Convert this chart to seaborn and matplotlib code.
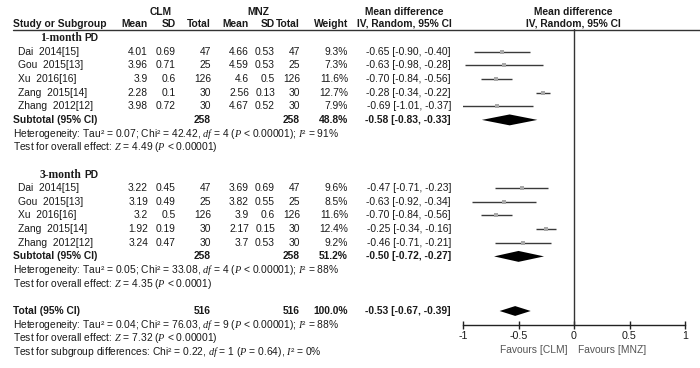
import matplotlib
matplotlib.use('Agg')
import matplotlib.pyplot as plt
import seaborn as sns
import pandas as pd

# ---- data ----
studies = ['Dai  2014[15]', 'Gou  2015[13]', 'Xu  2016[16]', 'Zang  2015[14]', 'Zhang  2012[12]']

clm_mean_1 = [4.01, 3.96, 3.9, 2.28, 3.98]
clm_sd_1 = [0.69, 0.71, 0.6, 0.1, 0.72]
mnz_mean_1 = [4.66, 4.59, 4.6, 2.56, 4.67]
mnz_sd_1 = [0.53, 0.53, 0.5, 0.13, 0.52]
weight_1 = [9.3, 7.3, 11.6, 12.7, 7.9]
md_1 = [-0.65, -0.63, -0.70, -0.28, -0.69]
lo_1 = [-0.90, -0.98, -0.84, -0.34, -1.01]
hi_1 = [-0.40, -0.28, -0.56, -0.22, -0.37]

clm_mean_3 = [3.22, 3.19, 3.2, 1.92, 3.24]
clm_sd_3 = [0.45, 0.49, 0.5, 0.19, 0.47]
mnz_mean_3 = [3.69, 3.82, 3.9, 2.17, 3.7]
mnz_sd_3 = [0.69, 0.55, 0.6, 0.15, 0.53]
weight_3 = [9.6, 8.5, 11.6, 12.4, 9.2]
md_3 = [-0.47, -0.63, -0.70, -0.25, -0.46]
lo_3 = [-0.71, -0.92, -0.84, -0.34, -0.71]
hi_3 = [-0.23, -0.34, -0.56, -0.16, -0.21]

n_total = [47, 25, 126, 30, 30]

pooled_labels = ['Subtotal (95% CI)', 'Subtotal (95% CI)', 'Total (95% CI)']
pooled_n = [258, 258, 516]
pooled_weight = [48.8, 51.2, 100.0]
pooled_md = [-0.58, -0.50, -0.53]
pooled_lo = [-0.83, -0.72, -0.67]
pooled_hi = [-0.33, -0.27, -0.39]

het_text = [
    'Heterogeneity: Tau² = 0.07; Chi² = 42.42, $df$ = 4 ($P$ < 0.00001); $I$² = 91%',
    'Heterogeneity: Tau² = 0.05; Chi² = 33.08, $df$ = 4 ($P$ < 0.00001); $I$² = 88%',
    'Heterogeneity: Tau² = 0.04; Chi² = 76.03, $df$ = 9 ($P$ < 0.00001); $I$² = 88%',
]
effect_text = [
    'Test for overall effect: $Z$ = 4.49 ($P$ < 0.00001)',
    'Test for overall effect: $Z$ = 4.35 ($P$ < 0.0001)',
    'Test for overall effect: $Z$ = 7.32 ($P$ < 0.00001)',
]
subgroup_text = 'Test for subgroup differences: Chi² = 0.22, $df$ = 1 ($P$ = 0.64), $I$² = 0%'
x_ticks = [-1, -0.5, 0, 0.5, 1]
x_tick_labels = ['-1', '-0.5', '0', '0.5', '1']

# ---- layout ----
sns.set_theme(style='white')
plt.rcParams['font.family'] = ['Liberation Sans', 'DejaVu Sans']
plt.rcParams['mathtext.fontset'] = 'custom'
plt.rcParams['mathtext.it'] = 'Liberation Serif:italic'
plt.rcParams['mathtext.rm'] = 'Liberation Sans'

FS = 7.4
TXT = '#1a1a1a'
Y0, DY = 38, 13.65


def ypix(r):
    return Y0 + DY * r


fig = plt.figure(figsize=(7, 3.68), dpi=100)
fig.patch.set_facecolor('white')

# text layer in pixel coordinates
at = fig.add_axes([0, 0, 1, 1])
at.set_xlim(0, 700)
at.set_ylim(368, 0)
at.axis('off')

# forest axes, rows on y
ax = fig.add_axes([463 / 700, 1 - 325 / 368, 222 / 700, (325 - 29) / 368])
ax.set_xlim(-1, 1)
ax.set_ylim((325 - Y0) / DY, (29 - Y0) / DY)
ax.patch.set_alpha(0)

# headers
at.text(161, 12, 'CLM', ha='center', va='center', fontsize=FS, fontweight='bold', color=TXT)
at.text(258, 12, 'MNZ', ha='center', va='center', fontsize=FS, fontweight='bold', color=TXT)
at.text(404, 12, 'Mean difference', ha='center', va='center', fontsize=FS, fontweight='bold', color=TXT)
at.text(573, 12, 'Mean difference', ha='center', va='center', fontsize=FS, fontweight='bold', color=TXT)
hy = 24
at.text(13, hy, 'Study or Subgroup', ha='left', va='center', fontsize=FS, fontweight='bold', color=TXT)
col_x = [148, 176, 211, 249, 275, 300, 348]
for x, lab in zip(col_x, ['Mean', 'SD', 'Total', 'Mean', 'SD', 'Total', 'Weight']):
    at.text(x, hy, lab, ha='right', va='center', fontsize=FS, fontweight='bold', color=TXT)
at.text(404, hy, 'IV, Random, 95% CI', ha='center', va='center', fontsize=FS, fontweight='bold', color=TXT)
at.text(573, hy, 'IV, Random, 95% CI', ha='center', va='center', fontsize=FS, fontweight='bold', color=TXT)
at.plot([13, 700], [29.5, 29.5], color='#333333', lw=1)

groups = [
    ('1-month', 0, clm_mean_1, clm_sd_1, mnz_mean_1, mnz_sd_1, weight_1, md_1, lo_1, hi_1),
    ('3-month', 10, clm_mean_3, clm_sd_3, mnz_mean_3, mnz_sd_3, weight_3, md_3, lo_3, hi_3),
]

rows = []
for gi, (gname, r0, cm, cs, mm, ms, w, md, lo, hi) in enumerate(groups):
    at.text(40, ypix(r0), gname, ha='left', va='center', fontsize=FS + 0.9,
            fontweight='bold', family='Liberation Serif', color=TXT)
    at.text(84, ypix(r0), 'PD', ha='left', va='center', fontsize=FS, fontweight='bold', color=TXT)
    for i, s in enumerate(studies):
        r = r0 + 1 + i
        y = ypix(r)
        at.text(18, y, s, ha='left', va='center', fontsize=FS, color=TXT)
        vals = [f'{cm[i]:g}', f'{cs[i]:g}', f'{n_total[i]}', f'{mm[i]:g}', f'{ms[i]:g}',
                f'{n_total[i]}', f'{w[i]:.1f}%']
        for x, v in zip(col_x, vals):
            at.text(x, y, v, ha='right', va='center', fontsize=FS, color=TXT)
        at.text(451, y, f'{md[i]:.2f} [{lo[i]:.2f}, {hi[i]:.2f}]', ha='right', va='center',
                fontsize=FS, color=TXT)
        rows.append({'row': r, 'md': md[i], 'lo': lo[i], 'hi': hi[i]})

df = pd.DataFrame(rows)
ax.hlines(df['row'], df['lo'], df['hi'], color='#3a3a3a', lw=1)
sns.scatterplot(data=df, x='md', y='row', marker='s', s=9, color='#a8a8a8',
                edgecolor='#a8a8a8', linewidth=0, ax=ax, zorder=3)

# pooled rows
pooled_rows = [6, 16, 20]
for k, r in enumerate(pooled_rows):
    y = ypix(r)
    at.text(13, y, pooled_labels[k], ha='left', va='center', fontsize=FS, fontweight='bold', color=TXT)
    at.text(col_x[2], y, f'{pooled_n[k]}', ha='right', va='center', fontsize=FS, fontweight='bold', color=TXT)
    at.text(col_x[5], y, f'{pooled_n[k]}', ha='right', va='center', fontsize=FS, fontweight='bold', color=TXT)
    at.text(col_x[6], y, f'{pooled_weight[k]:.1f}%', ha='right', va='center', fontsize=FS,
            fontweight='bold', color=TXT)
    at.text(451, y, f'{pooled_md[k]:.2f} [{pooled_lo[k]:.2f}, {pooled_hi[k]:.2f}]', ha='right',
            va='center', fontsize=FS, fontweight='bold', color=TXT)
    hh = 0.4 if k < 2 else 0.36
    ax.fill([pooled_lo[k], pooled_md[k], pooled_hi[k], pooled_md[k]],
            [r, r - hh, r, r + hh], color='black', lw=0, zorder=4)
    at.text(13, ypix(r + 1), het_text[k], ha='left', va='center', fontsize=FS, color=TXT)
    at.text(13, ypix(r + 2), effect_text[k], ha='left', va='center', fontsize=FS, color=TXT)

at.text(13, ypix(23), subgroup_text, ha='left', va='center', fontsize=FS, color=TXT)

# axis styling
ax.axvline(0, color='#333333', lw=1)
for side in ['top', 'right', 'left']:
    ax.spines[side].set_visible(False)
ax.spines['bottom'].set_color('#222222')
ax.spines['bottom'].set_linewidth(1)
ax.set_yticks([])
ax.set_xticks(x_ticks)
ax.set_xticklabels(x_tick_labels, fontsize=FS + 0.3, color=TXT)
ax.tick_params(axis='x', direction='inout', length=6, width=1, color='#222222', pad=1, bottom=True)
ax.set_xlabel('')
ax.set_ylabel('')
ax.grid(False)

at.text(568, 350, 'Favours [CLM]', ha='right', va='center', fontsize=FS, color='#555555')
at.text(578, 350, 'Favours [MNZ]', ha='left', va='center', fontsize=FS, color='#555555')

fig.savefig('out.png', dpi=100)
